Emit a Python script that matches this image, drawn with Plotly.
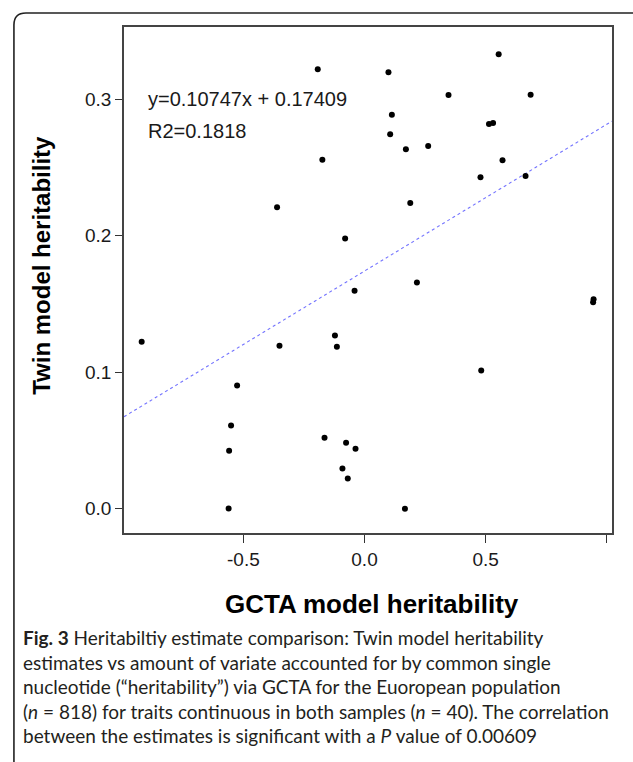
import plotly.graph_objects as go

# ---- data ----
gcta = [-0.193, -0.174, -0.361, -0.080, 0.554, 0.099, 0.347, 0.686, 0.113, 0.106,
        0.514, 0.531, 0.171, 0.263, 0.570, 0.479, 0.665, 0.189, -0.920, -0.041,
        -0.351, -0.122, -0.114, -0.526, -0.551, -0.165, 0.2165, 0.946, 0.944, 0.482,
        -0.559, -0.076, -0.037, -0.091, -0.069, -0.561, 0.167]
twin = [0.322, 0.2557, 0.2209, 0.1979, 0.3329, 0.3197, 0.3031, 0.3033, 0.2887, 0.2743,
        0.2818, 0.2826, 0.2633, 0.2657, 0.2553, 0.2428, 0.2438, 0.2240, 0.1223, 0.1596,
        0.1193, 0.1269, 0.1186, 0.0903, 0.0610, 0.0520, 0.1657, 0.1535, 0.1513, 0.1013,
        0.0425, 0.0483, 0.0439, 0.0295, 0.0222, 0.0002, 0.0000]
slope = 0.10747
intercept = 0.17409
x_ticks = [-0.5, 0.0, 0.5, 1.0]
x_tick_labels = ["-0.5", "0.0", "0.5", ""]
y_ticks = [0.0, 0.1, 0.2, 0.3]
y_tick_labels = ["0.0", "0.1", "0.2", "0.3"]
eq_text = "y=0.10747x + 0.17409"
r2_text = "R2=0.1818"
x_title = "GCTA model heritability"
y_title = "Twin model heritability"
caption_lines = [
    "<b>Fig. 3</b> Heritabiltiy estimate comparison: Twin model heritability",
    "estimates vs amount of variate accounted for by common single",
    "nucleotide (\u201cheritability\u201d) via GCTA for the Euoropean population",
    "(<i>n</i> = 818) for traits continuous in both samples (<i>n</i> = 40). The correlation",
    "between the estimates is significant with a <i>P</i> value of 0.00609",
]

X_RANGE = [-0.993, 1.022]
Y_RANGE = [-0.0178, 0.3529]

W, H = 633, 762
L, R, T, B = 124, 21.3, 27, 228.7
PW = W - L - R
PH = H - T - B


def px(xp):
    return (xp - L) / PW


def py(yp):
    return (H - B - yp) / PH


fig = go.Figure()

# regression line
fig.add_trace(go.Scatter(
    x=X_RANGE, y=[slope * v + intercept for v in X_RANGE],
    mode="lines", line=dict(color="rgba(80,80,255,0.8)", width=1.1, dash="dot"),
    hoverinfo="skip", showlegend=False))

fig.add_trace(go.Scatter(
    x=gcta, y=twin, mode="markers",
    marker=dict(color="black", size=6, line=dict(width=0)),
    showlegend=False))

axis_font = dict(family="Liberation Sans, Arial", size=19, color="#1a1a1a")

fig.update_xaxes(range=X_RANGE, tickvals=x_ticks, ticktext=x_tick_labels,
                 showgrid=False, zeroline=False, showline=True, mirror=True,
                 linecolor="#444", linewidth=1.5, ticks="outside", ticklen=8,
                 tickcolor="#333", tickwidth=1.3, tickfont=axis_font)
fig.update_yaxes(range=Y_RANGE, tickvals=y_ticks, ticktext=y_tick_labels,
                 showgrid=False, zeroline=False, showline=True, mirror=True,
                 linecolor="#444", linewidth=1.5, ticks="outside", ticklen=7,
                 tickcolor="#333", tickwidth=1.3, tickfont=axis_font)

ann = []
ann.append(dict(x=-0.902, y=0.300, xref="x", yref="y", text=eq_text, showarrow=False,
                xanchor="left", yanchor="middle",
                font=dict(family="Liberation Sans, Arial", size=20, color="#1a1a1a")))
ann.append(dict(x=-0.902, y=0.2767, xref="x", yref="y", text=r2_text, showarrow=False,
                xanchor="left", yanchor="middle",
                font=dict(family="Liberation Sans, Arial", size=20, color="#1a1a1a")))
ann.append(dict(x=px(372), y=py(604), xref="paper", yref="paper", text="<b>" + x_title + "</b>",
                showarrow=False, xanchor="center", yanchor="middle",
                font=dict(family="Liberation Sans, Arial", size=26, color="black")))
ann.append(dict(x=px(42), y=py(265), xref="paper", yref="paper", text="<b>" + y_title + "</b>",
                showarrow=False, xanchor="center", yanchor="middle", textangle=-90,
                font=dict(family="Liberation Sans, Arial", size=24, color="black")))

cap_font = dict(family="Lato", size=19, color="#231f20")
for i, line in enumerate(caption_lines):
    ann.append(dict(x=px(21), y=py(638 + 24.5 * i), xref="paper", yref="paper", text=line,
                    showarrow=False, xanchor="left", yanchor="middle", font=cap_font))

# outer rounded frame
x0, y0, rr = 14, 13, 12
path = (f"M {px(x0)},{py(800)} L {px(x0)},{py(y0 + rr)} "
        f"Q {px(x0)},{py(y0)} {px(x0 + rr)},{py(y0)} L {px(660)},{py(y0)}")
shapes = [dict(type="path", path=path, xref="paper", yref="paper",
               line=dict(color="#222", width=1.6), layer="above")]

fig.update_layout(width=W, height=H, margin=dict(l=L, r=R, t=T, b=B),
                  plot_bgcolor="white", paper_bgcolor="white",
                  annotations=ann, shapes=shapes, showlegend=False)

fig.write_html("out.html")
